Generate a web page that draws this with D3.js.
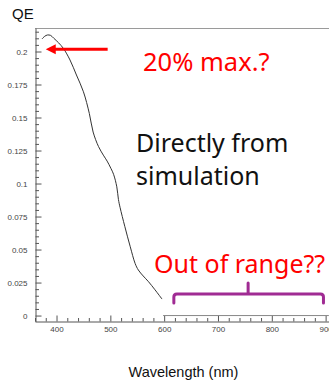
<!DOCTYPE html>
<html>
<head>
<meta charset="utf-8">
<script src="https://cdn.jsdelivr.net/npm/d3@7"></script>
<style>
  html, body { margin: 0; padding: 0; background: #fff; }
  svg { display: block; }
</style>
</head>
<body>
<svg id="chart" width="329" height="383"></svg>
<script>
// Simulated quantum efficiency versus wavelength
const wavelength = [373, 378, 383, 389, 395, 404, 413, 425, 437, 450, 461, 468, 478, 487, 494, 501, 506, 512, 515, 518, 527, 537, 546, 552, 561, 571, 583, 596];
const qe = [0.2095, 0.2115, 0.2125, 0.2122, 0.2100, 0.2065, 0.2022, 0.1936, 0.1822, 0.1695, 0.1530, 0.1390, 0.1280, 0.1215, 0.1170, 0.1115, 0.1070, 0.0975, 0.0880, 0.0820, 0.0673, 0.0521, 0.0395, 0.0345, 0.0300, 0.0256, 0.0195, 0.0125];

// Flat tail past the end of the response
const tailWavelength = [598, 906];
const tailQe = [0, 0];

const yTicks = [0, 0.025, 0.05, 0.075, 0.1, 0.125, 0.15, 0.175, 0.2];
const yTickLabels = ["0", "0.025", "0.05", "0.075", "0.1", "0.125", "0.15", "0.175", "0.2"];
const xTicks = [400, 500, 600, 700, 800, 900];
const xTickLabels = ["400", "500", "600", "700", "800", "900"];

const svg = d3.select("#chart");

const x = d3.scaleLinear().domain([360, 910]).range([35, 331]);
const y = d3.scaleLinear().domain([-0.0045, 0.2178]).range([321.5, 28]);

const axisFont = "'Liberation Sans', Arial, sans-serif";
const noteFont = "'Noto Sans', sans-serif";

// Frame top edge
svg.append("line")
  .attr("x1", 35).attr("x2", 329)
  .attr("y1", 28.5).attr("y2", 28.5)
  .attr("stroke", "#9a9a9a").attr("stroke-width", 1);

// Y axis: major and minor ticks pointing inward
const yMinor = d3.range(0, 0.2176, 0.005).filter(v => Math.abs(Math.round(v / 0.025) * 0.025 - v) > 1e-6);
svg.append("g")
  .attr("transform", "translate(35.5,0)")
  .call(d3.axisLeft(y).tickValues(yMinor).tickSize(-3.5).tickFormat(""))
  .call(g => g.select(".domain").remove())
  .call(g => g.selectAll("line").attr("stroke", "#555"));

const yAxis = svg.append("g")
  .attr("transform", "translate(35.5,0)")
  .call(d3.axisLeft(y).tickValues(yTicks).tickSize(-6).tickSizeOuter(0).tickPadding(8)
    .tickFormat((d, i) => yTickLabels[i]));
yAxis.select(".domain").attr("stroke", "#555");
yAxis.selectAll("line").attr("stroke", "#555");
yAxis.selectAll("text").attr("font-family", axisFont).attr("font-size", 8).attr("fill", "#444");

// X axis: major and minor ticks pointing inward
const xMinor = d3.range(360, 911, 20).filter(v => v % 100 !== 0);
svg.append("g")
  .attr("transform", "translate(0,321.5)")
  .call(d3.axisBottom(x).tickValues(xMinor).tickSize(-3.5).tickFormat(""))
  .call(g => g.select(".domain").remove())
  .call(g => g.selectAll("line").attr("stroke", "#555"));

const xAxis = svg.append("g")
  .attr("transform", "translate(0,321.5)")
  .call(d3.axisBottom(x).tickValues(xTicks).tickSize(-6).tickSizeOuter(0).tickPadding(4.5)
    .tickFormat((d, i) => xTickLabels[i]));
xAxis.select(".domain").attr("stroke", "#555");
xAxis.selectAll("line").attr("stroke", "#555");
xAxis.selectAll("text").attr("font-family", axisFont).attr("font-size", 8).attr("fill", "#444");

// QE curve
const line = d3.line()
  .x(d => x(d[0]))
  .y(d => y(d[1]))
  .curve(d3.curveCatmullRom.alpha(0.5));

svg.append("path")
  .datum(d3.zip(wavelength, qe))
  .attr("d", line)
  .attr("fill", "none")
  .attr("stroke", "#333")
  .attr("stroke-width", 1);

svg.append("path")
  .datum(d3.zip(tailWavelength, tailQe))
  .attr("d", d3.line().x(d => x(d[0])).y(d => y(d[1])))
  .attr("fill", "none")
  .attr("stroke", "#888")
  .attr("stroke-width", 1);

// Axis titles
svg.append("text")
  .attr("x", 12).attr("y", 18.5)
  .attr("font-family", axisFont).attr("font-size", 15)
  .attr("fill", "#111")
  .text("QE");

svg.append("text")
  .attr("x", 183.5).attr("y", 376.5)
  .attr("text-anchor", "middle")
  .attr("font-family", axisFont).attr("font-size", 14.5)
  .attr("fill", "#111")
  .text("Wavelength (nm)");

// Red arrow toward the peak
const arrowY = y(0.2017);
const tipX = x(380);
svg.append("line")
  .attr("x1", x(495)).attr("x2", tipX + 8)
  .attr("y1", arrowY).attr("y2", arrowY)
  .attr("stroke", "#ff0000").attr("stroke-width", 3);
svg.append("path")
  .attr("d", `M${tipX},${arrowY} L${tipX + 10},${arrowY - 5} L${tipX + 10},${arrowY + 5} Z`)
  .attr("fill", "#ff0000");

svg.append("text")
  .attr("x", 143).attr("y", 71)
  .attr("font-family", noteFont).attr("font-size", 25.5)
  .attr("fill", "#ff0000")
  .text("20% max.?");

svg.append("text")
  .attr("x", 136).attr("y", 151.5)
  .attr("font-family", noteFont).attr("font-size", 25)
  .attr("fill", "#111")
  .text("Directly from");

svg.append("text")
  .attr("x", 136).attr("y", 185)
  .attr("font-family", noteFont).attr("font-size", 25)
  .attr("fill", "#111")
  .text("simulation");

svg.append("text")
  .attr("x", 154).attr("y", 273)
  .attr("font-family", noteFont).attr("font-size", 25)
  .attr("fill", "#ff0000")
  .text("Out of range??");

// Purple bracket spanning the uncovered wavelengths
const bL = x(618), bR = x(896), bM = x(756);
const bBottom = y(0.0095), bTop = y(0.0163), bTick = y(0.0246);
const r = 3;
svg.append("path")
  .attr("d", `M${bL},${bBottom} V${bTop + r} Q${bL},${bTop} ${bL + r},${bTop} H${bR - r} Q${bR},${bTop} ${bR},${bTop + r} V${bBottom} M${bM},${bTop} V${bTick}`)
  .attr("fill", "none")
  .attr("stroke", "#A02B93")
  .attr("stroke-width", 3)
  .attr("stroke-linecap", "round")
  .attr("stroke-linejoin", "round");
</script>
</body>
</html>
